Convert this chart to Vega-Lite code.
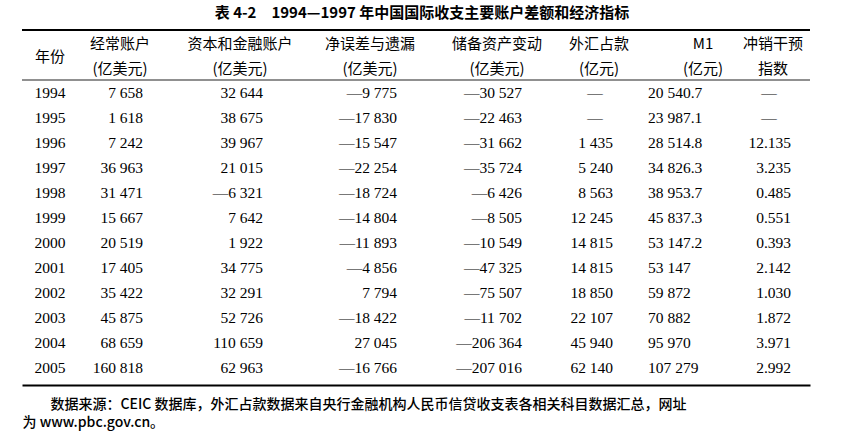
{
  "$schema": "https://vega.github.io/schema/vega-lite/v6.json",
  "width": 788,
  "height": 355,
  "autosize": {"type": "none"},
  "padding": {"left": 22, "top": 30, "right": 34, "bottom": 49},
  "background": "white",
  "config": {"view": {"stroke": null}},
  "title": {
    "text": "表 4-2　1994—1997 年中国国际收支主要账户差额和经济指标",
    "font": "Noto Sans CJK SC",
    "fontSize": 15,
    "fontWeight": "bold",
    "color": "#000",
    "anchor": "middle",
    "frame": "group",
    "offset": 8,
    "dx": 6
  },
  "datasets": {
    "header": [
      {"row": "h2", "col": 0, "text": "年份"},
      {"row": "h1", "col": 1, "text": "经常账户"},
      {"row": "h2", "col": 1, "text": "(亿美元)"},
      {"row": "h1", "col": 2, "text": "资本和金融账户"},
      {"row": "h2", "col": 2, "text": "(亿美元)"},
      {"row": "h1", "col": 3, "text": "净误差与遗漏"},
      {"row": "h2", "col": 3, "text": "(亿美元)"},
      {"row": "h1", "col": 4, "text": "储备资产变动"},
      {"row": "h2", "col": 4, "text": "(亿美元)"},
      {"row": "h1", "col": 5, "text": "外汇占款"},
      {"row": "h2", "col": 5, "text": "(亿元)"},
      {"row": "h1", "col": 6, "text": "M1"},
      {"row": "h2", "col": 6, "text": "(亿元)"},
      {"row": "h1", "col": 7, "text": "冲销干预"},
      {"row": "h2", "col": 7, "text": "指数"}
    ],
    "cells": [
      {"row": "1994", "col": 0, "text": "1994"}, {"row": "1994", "col": 1, "text": "7 658"}, {"row": "1994", "col": 2, "text": "32 644"}, {"row": "1994", "col": 3, "text": "—9 775"}, {"row": "1994", "col": 4, "text": "—30 527"}, {"row": "1994", "col": 5, "text": "—"}, {"row": "1994", "col": 6, "text": "20 540.7"}, {"row": "1994", "col": 7, "text": "—"},
      {"row": "1995", "col": 0, "text": "1995"}, {"row": "1995", "col": 1, "text": "1 618"}, {"row": "1995", "col": 2, "text": "38 675"}, {"row": "1995", "col": 3, "text": "—17 830"}, {"row": "1995", "col": 4, "text": "—22 463"}, {"row": "1995", "col": 5, "text": "—"}, {"row": "1995", "col": 6, "text": "23 987.1"}, {"row": "1995", "col": 7, "text": "—"},
      {"row": "1996", "col": 0, "text": "1996"}, {"row": "1996", "col": 1, "text": "7 242"}, {"row": "1996", "col": 2, "text": "39 967"}, {"row": "1996", "col": 3, "text": "—15 547"}, {"row": "1996", "col": 4, "text": "—31 662"}, {"row": "1996", "col": 5, "text": "1 435"}, {"row": "1996", "col": 6, "text": "28 514.8"}, {"row": "1996", "col": 7, "text": "12.135"},
      {"row": "1997", "col": 0, "text": "1997"}, {"row": "1997", "col": 1, "text": "36 963"}, {"row": "1997", "col": 2, "text": "21 015"}, {"row": "1997", "col": 3, "text": "—22 254"}, {"row": "1997", "col": 4, "text": "—35 724"}, {"row": "1997", "col": 5, "text": "5 240"}, {"row": "1997", "col": 6, "text": "34 826.3"}, {"row": "1997", "col": 7, "text": "3.235"},
      {"row": "1998", "col": 0, "text": "1998"}, {"row": "1998", "col": 1, "text": "31 471"}, {"row": "1998", "col": 2, "text": "—6 321"}, {"row": "1998", "col": 3, "text": "—18 724"}, {"row": "1998", "col": 4, "text": "—6 426"}, {"row": "1998", "col": 5, "text": "8 563"}, {"row": "1998", "col": 6, "text": "38 953.7"}, {"row": "1998", "col": 7, "text": "0.485"},
      {"row": "1999", "col": 0, "text": "1999"}, {"row": "1999", "col": 1, "text": "15 667"}, {"row": "1999", "col": 2, "text": "7 642"}, {"row": "1999", "col": 3, "text": "—14 804"}, {"row": "1999", "col": 4, "text": "—8 505"}, {"row": "1999", "col": 5, "text": "12 245"}, {"row": "1999", "col": 6, "text": "45 837.3"}, {"row": "1999", "col": 7, "text": "0.551"},
      {"row": "2000", "col": 0, "text": "2000"}, {"row": "2000", "col": 1, "text": "20 519"}, {"row": "2000", "col": 2, "text": "1 922"}, {"row": "2000", "col": 3, "text": "—11 893"}, {"row": "2000", "col": 4, "text": "—10 549"}, {"row": "2000", "col": 5, "text": "14 815"}, {"row": "2000", "col": 6, "text": "53 147.2"}, {"row": "2000", "col": 7, "text": "0.393"},
      {"row": "2001", "col": 0, "text": "2001"}, {"row": "2001", "col": 1, "text": "17 405"}, {"row": "2001", "col": 2, "text": "34 775"}, {"row": "2001", "col": 3, "text": "—4 856"}, {"row": "2001", "col": 4, "text": "—47 325"}, {"row": "2001", "col": 5, "text": "14 815"}, {"row": "2001", "col": 6, "text": "53 147"}, {"row": "2001", "col": 7, "text": "2.142"},
      {"row": "2002", "col": 0, "text": "2002"}, {"row": "2002", "col": 1, "text": "35 422"}, {"row": "2002", "col": 2, "text": "32 291"}, {"row": "2002", "col": 3, "text": "7 794"}, {"row": "2002", "col": 4, "text": "—75 507"}, {"row": "2002", "col": 5, "text": "18 850"}, {"row": "2002", "col": 6, "text": "59 872"}, {"row": "2002", "col": 7, "text": "1.030"},
      {"row": "2003", "col": 0, "text": "2003"}, {"row": "2003", "col": 1, "text": "45 875"}, {"row": "2003", "col": 2, "text": "52 726"}, {"row": "2003", "col": 3, "text": "—18 422"}, {"row": "2003", "col": 4, "text": "—11 702"}, {"row": "2003", "col": 5, "text": "22 107"}, {"row": "2003", "col": 6, "text": "70 882"}, {"row": "2003", "col": 7, "text": "1.872"},
      {"row": "2004", "col": 0, "text": "2004"}, {"row": "2004", "col": 1, "text": "68 659"}, {"row": "2004", "col": 2, "text": "110 659"}, {"row": "2004", "col": 3, "text": "27 045"}, {"row": "2004", "col": 4, "text": "—206 364"}, {"row": "2004", "col": 5, "text": "45 940"}, {"row": "2004", "col": 6, "text": "95 970"}, {"row": "2004", "col": 7, "text": "3.971"},
      {"row": "2005", "col": 0, "text": "2005"}, {"row": "2005", "col": 1, "text": "160 818"}, {"row": "2005", "col": 2, "text": "62 963"}, {"row": "2005", "col": 3, "text": "—16 766"}, {"row": "2005", "col": 4, "text": "—207 016"}, {"row": "2005", "col": 5, "text": "62 140"}, {"row": "2005", "col": 6, "text": "107 279"}, {"row": "2005", "col": 7, "text": "2.992"}
    ]
  },
  "resolve": {"scale": {"x": "independent"}, "axis": {"x": "independent"}},
  "layer": [
    {
      "data": {"values": [{"rule": "top"}]},
      "mark": {"type": "rule", "color": "#000", "strokeWidth": 2},
      "encoding": {
        "x": {
          "datum": 0, "type": "quantitative",
          "scale": {"domain": [0, 1]},
          "axis": {
            "orient": "bottom", "domain": true, "domainColor": "#000", "domainWidth": 2,
            "ticks": false, "labels": false, "grid": false,
            "title": ["\u200b\u3000\u3000数据来源：CEIC 数据库，外汇占款数据来自央行金融机构人民币信贷收支表各相关科目数据汇总，网址", "为 www.pbc.gov.cn。"],
            "titleAnchor": "start", "titleAlign": "left", "titleBaseline": "top",
            "titlePadding": 12, "titleFont": "Noto Sans CJK SC", "titleFontSize": 14,
            "titleFontWeight": 500, "titleLineHeight": 18, "titleColor": "#000"
          }
        },
        "x2": {"datum": 1},
        "y": {"datum": "h1", "type": "nominal", "bandPosition": 0,
              "scale": {"type": "band", "domain": ["h1", "h2", "1994", "1995", "1996", "1997", "1998", "1999", "2000", "2001", "2002", "2003", "2004", "2005"], "paddingInner": 0, "paddingOuter": 0.1, "align": 0},
              "axis": null}
      }
    },
    {
      "data": {"values": [{"rule": "mid"}]},
      "mark": {"type": "rule", "color": "#222", "strokeWidth": 1.2},
      "encoding": {
        "y": {"datum": "1994", "type": "nominal", "bandPosition": 0, "axis": null}
      }
    },
    {
      "data": {"name": "header"},
      "transform": [{"filter": "datum.col > 0"}],
      "mark": {"type": "text", "font": "Noto Sans CJK SC", "fontSize": 15, "color": "#000", "align": "center", "baseline": "middle", "dy": 1},
      "encoding": {
        "x": {"field": "col", "type": "quantitative", "scale": {"domain": [0, 1, 2, 3, 4, 5, 6, 7], "range": [28, 98, 218, 348, 475, 577, 681, 751]}, "axis": null},
        "y": {"field": "row", "type": "nominal", "axis": null},
        "text": {"field": "text"}
      }
    },
    {
      "data": {"name": "header"},
      "transform": [{"filter": "datum.col == 0"}],
      "mark": {"type": "text", "font": "Noto Sans CJK SC", "fontSize": 15, "color": "#000", "align": "center", "baseline": "middle", "dy": 2},
      "encoding": {
        "x": {"field": "col", "type": "quantitative", "scale": {"domain": [0, 1, 2, 3, 4, 5, 6, 7], "range": [28, 98, 218, 348, 475, 577, 681, 751]}, "axis": null},
        "y": {"field": "row", "type": "nominal", "bandPosition": 0, "axis": null},
        "text": {"field": "text"}
      }
    },
    {
      "data": {"name": "cells"},
      "transform": [{"filter": "datum.col == 0"}],
      "mark": {"type": "text", "font": "Liberation Serif", "fontSize": 15.5, "color": "#000", "align": "center", "baseline": "middle"},
      "encoding": {
        "x": {"field": "col", "type": "quantitative", "scale": {"domain": [0, 1, 2, 3, 4, 5, 6, 7], "range": [28, 98, 218, 348, 475, 577, 681, 751]}, "axis": null},
        "y": {"field": "row", "type": "nominal", "axis": null},
        "text": {"field": "text"}
      }
    },
    {
      "data": {"name": "cells"},
      "transform": [{"filter": "datum.col > 0 && datum.col != 6 && datum.text != '—'"}],
      "mark": {"type": "text", "font": "Liberation Serif", "fontSize": 15.5, "color": "#000", "align": "right", "baseline": "middle"},
      "encoding": {
        "x": {"field": "col", "type": "quantitative", "scale": {"domain": [1, 2, 3, 4, 5, 6, 7], "range": [121, 241, 375, 500, 591, 626, 769]}, "axis": null},
        "y": {"field": "row", "type": "nominal", "axis": null},
        "text": {"field": "text"}
      }
    },
    {
      "data": {"name": "cells"},
      "transform": [{"filter": "datum.col == 6"}],
      "mark": {"type": "text", "font": "Liberation Serif", "fontSize": 15.5, "color": "#000", "align": "left", "baseline": "middle"},
      "encoding": {
        "x": {"field": "col", "type": "quantitative", "scale": {"domain": [1, 2, 3, 4, 5, 6, 7], "range": [121, 241, 375, 500, 591, 626, 769]}, "axis": null},
        "y": {"field": "row", "type": "nominal", "axis": null},
        "text": {"field": "text"}
      }
    },
    {
      "data": {"name": "cells"},
      "transform": [{"filter": "datum.text == '—'"}],
      "mark": {"type": "text", "font": "Liberation Serif", "fontSize": 15.5, "color": "#000", "align": "center", "baseline": "middle", "dx": -4},
      "encoding": {
        "x": {"field": "col", "type": "quantitative", "scale": {"domain": [0, 1, 2, 3, 4, 5, 6, 7], "range": [28, 98, 218, 348, 475, 577, 681, 751]}, "axis": null},
        "y": {"field": "row", "type": "nominal", "axis": null},
        "text": {"field": "text"}
      }
    }
  ]
}
